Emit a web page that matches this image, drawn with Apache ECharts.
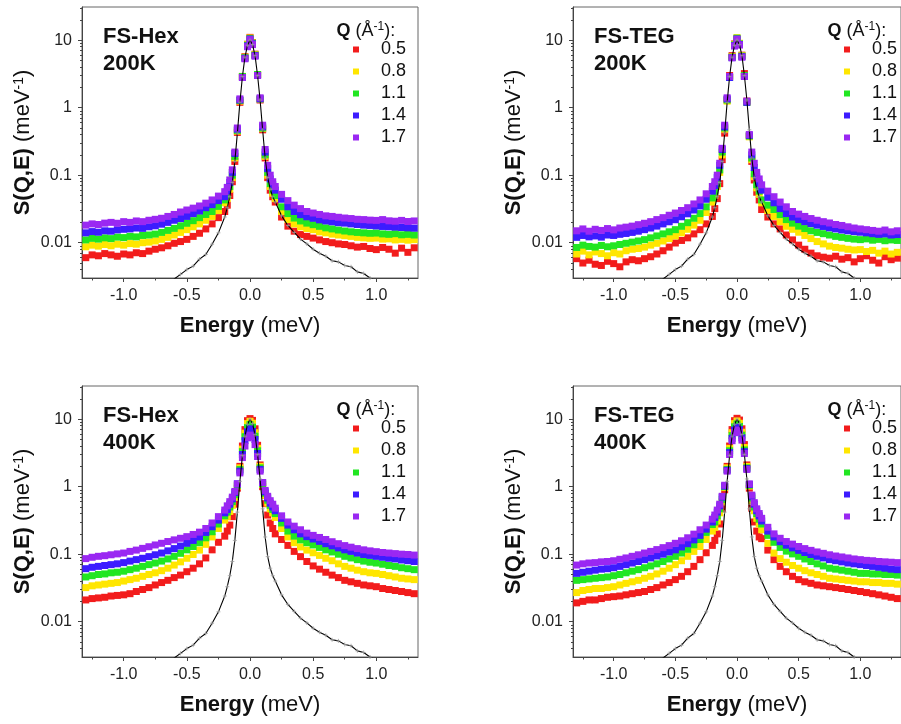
<!DOCTYPE html>
<html>
<head>
<meta charset="utf-8">
<script src="https://cdn.jsdelivr.net/npm/echarts@6/dist/echarts.min.js"></script>
<style>
html,body{margin:0;padding:0;background:#fff;}
#chart{width:901px;height:724px;}
</style>
</head>
<body>
<div id="chart"></div>
<script>
// ---------- DATA ----------
const energy = [
  -1.30,-1.25,-1.20,-1.15,-1.10,-1.05,-1.00,-0.95,-0.90,-0.85,-0.80,-0.75,-0.70,-0.65,-0.60,-0.55,-0.50,-0.45,-0.40,-0.35,-0.30,-0.25,-0.20,
  -0.18,-0.16,-0.14,-0.12,-0.10,-0.08,-0.06,-0.04,-0.02,0.00,0.02,0.04,0.06,0.08,0.10,0.12,0.14,0.16,0.18,
  0.20,0.25,0.30,0.35,0.40,0.45,0.50,0.55,0.60,0.65,0.70,0.75,0.80,0.85,0.90,0.95,1.00,1.05,1.10,1.15,1.20,1.25,1.30
];
// instrument resolution (black line)
const resolution = [
  null,null,null,null,null,null,null,null,null,null,null,null,null,0.0024,0.0029,0.0034,0.0040,0.0045,0.0057,0.0067,0.0095,0.0140,0.0240,
  0.033,0.048,0.078,0.16,0.42,1.2,2.9,5.6,8.4,10.0,8.6,5.9,3.0,1.3,0.47,0.18,0.092,0.062,0.048,
  0.040,0.025,0.018,0.0142,0.0113,0.0096,0.0080,0.0070,0.0063,0.0054,0.0052,0.0046,0.0044,0.0037,0.0035,0.0030,0.0027,0.0024,null,null,null,null,null
];

// FS-Hex 200K
const hex200Q05 = [
  0.0060,0.0066,0.0064,0.0069,0.0066,0.0063,0.0068,0.0066,0.0071,0.0069,0.0075,0.0080,0.0084,0.0090,0.0098,0.0104,0.0112,0.0124,0.0138,0.0160,0.0190,0.0235,0.0290,
  0.036,0.050,0.080,0.16,0.43,1.2,2.9,5.7,8.7,11.0,9.2,6.2,3.1,1.3,0.47,0.18,0.092,0.060,0.048,
  0.040,0.024,0.0176,0.0148,0.0132,0.0124,0.0117,0.0110,0.0104,0.0100,0.0096,0.0094,0.0090,0.0086,0.0088,0.0082,0.0079,0.0085,0.0080,0.0070,0.0083,0.0072,0.0084
];
const hex200Q08 = [
  0.0087,0.0092,0.0089,0.0094,0.0090,0.0095,0.0092,0.0097,0.0095,0.0100,0.0102,0.0106,0.0112,0.0120,0.0130,0.0142,0.0156,0.0172,0.0190,0.0215,0.0245,0.0300,0.0390,
  0.045,0.062,0.092,0.18,0.45,1.25,2.9,5.6,8.6,10.8,9.1,6.1,3.1,1.33,0.49,0.19,0.10,0.068,0.054,
  0.045,0.029,0.022,0.0190,0.0172,0.0162,0.0156,0.0145,0.0140,0.0134,0.0130,0.0127,0.0124,0.0120,0.0118,0.0116,0.0117,0.0113,0.0114,0.0110,0.0112,0.0109,0.0111
];
const hex200Q11 = [
  0.0110,0.0116,0.0113,0.0118,0.0115,0.0121,0.0119,0.0124,0.0122,0.0128,0.0130,0.0134,0.0142,0.0152,0.0163,0.0178,0.0194,0.0212,0.0235,0.0262,0.0290,0.0345,0.0430,
  0.050,0.068,0.10,0.19,0.46,1.28,2.9,5.5,8.4,10.6,9.0,6.0,3.1,1.35,0.50,0.20,0.11,0.075,0.060,
  0.050,0.034,0.027,0.0232,0.0210,0.0195,0.0185,0.0175,0.0166,0.0160,0.0154,0.0149,0.0145,0.0142,0.0140,0.0138,0.0139,0.0135,0.0133,0.0136,0.0131,0.0133,0.0130
];
const hex200Q14 = [
  0.0140,0.0146,0.0143,0.0150,0.0148,0.0155,0.0158,0.0160,0.0165,0.0163,0.0172,0.0178,0.0188,0.0200,0.0215,0.0228,0.0245,0.0270,0.0295,0.0330,0.0366,0.0420,0.0480,
  0.058,0.078,0.11,0.21,0.48,1.3,2.8,5.4,8.2,10.4,8.8,5.9,3.0,1.35,0.52,0.22,0.125,0.088,0.072,
  0.060,0.044,0.034,0.029,0.026,0.0242,0.0230,0.0218,0.0210,0.0204,0.0198,0.0195,0.0190,0.0186,0.0182,0.0180,0.0177,0.0174,0.0172,0.0170,0.0168,0.0166,0.0164
];
const hex200Q17 = [
  0.0182,0.0190,0.0186,0.0195,0.0200,0.0194,0.0205,0.0200,0.0210,0.0205,0.0215,0.0222,0.0230,0.0245,0.0262,0.0285,0.0305,0.0325,0.0350,0.0385,0.0430,0.0490,0.0570,
  0.066,0.085,0.12,0.22,0.50,1.35,2.8,5.3,8.0,10.2,8.6,5.8,3.0,1.4,0.55,0.24,0.14,0.10,0.080,
  0.068,0.052,0.042,0.036,0.032,0.029,0.0275,0.0262,0.0250,0.0245,0.0238,0.0232,0.0228,0.0222,0.0220,0.0216,0.0214,0.0220,0.0211,0.0208,0.0214,0.0206,0.0210
];

// FS-TEG 200K
const teg200Q05 = [
  0.0058,0.0050,0.0055,0.0048,0.0046,0.0053,0.0049,0.0044,0.0052,0.0056,0.0054,0.0058,0.0062,0.0068,0.0076,0.0086,0.0099,0.0108,0.0118,0.0135,0.0156,0.0190,0.0245,
  0.032,0.045,0.075,0.17,0.42,1.3,3.0,5.9,8.8,10.5,8.6,6.0,3.2,1.25,0.38,0.16,0.085,0.056,0.043,
  0.031,0.024,0.019,0.016,0.013,0.011,0.0092,0.0080,0.0070,0.0064,0.0061,0.0059,0.0063,0.0057,0.0060,0.0052,0.0058,0.0064,0.0055,0.0050,0.0062,0.0056,0.0059
];
const teg200Q08 = [
  0.0068,0.0075,0.0066,0.0073,0.0069,0.0064,0.0071,0.0068,0.0076,0.0080,0.0082,0.0086,0.0092,0.0098,0.0106,0.0115,0.0126,0.0140,0.0158,0.0182,0.0215,0.0280,0.0400,
  0.050,0.068,0.11,0.20,0.48,1.25,2.8,5.7,8.7,10.9,9.0,5.9,3.0,1.2,0.37,0.17,0.095,0.065,0.052,
  0.039,0.030,0.0245,0.0205,0.0175,0.0158,0.0143,0.0128,0.0115,0.0104,0.0096,0.0089,0.0085,0.0083,0.0080,0.0078,0.0079,0.0074,0.0077,0.0070,0.0075,0.0068,0.0072
];
const teg200Q11 = [
  0.0085,0.0092,0.0088,0.0086,0.0091,0.0087,0.0090,0.0094,0.0098,0.0102,0.0106,0.0111,0.0118,0.0126,0.0135,0.0145,0.0156,0.0175,0.0198,0.0230,0.0270,0.0340,0.0460,
  0.056,0.075,0.12,0.22,0.50,1.3,2.8,5.6,8.5,10.7,8.8,5.8,3.0,1.2,0.38,0.18,0.105,0.072,0.058,
  0.043,0.036,0.031,0.026,0.022,0.0195,0.0176,0.0162,0.0150,0.0142,0.0136,0.0130,0.0124,0.0120,0.0116,0.0113,0.0111,0.0114,0.0109,0.0112,0.0107,0.0110,0.0108
];
const teg200Q14 = [
  0.0120,0.0128,0.0122,0.0126,0.0121,0.0130,0.0128,0.0133,0.0137,0.0142,0.0148,0.0156,0.0165,0.0176,0.0190,0.0204,0.0219,0.0242,0.0268,0.0305,0.0350,0.0440,0.0580,
  0.070,0.092,0.14,0.24,0.52,1.35,2.8,5.5,8.3,10.4,8.6,5.7,2.9,1.2,0.39,0.20,0.13,0.095,0.076,
  0.060,0.047,0.039,0.032,0.027,0.024,0.0220,0.0205,0.0192,0.0182,0.0174,0.0166,0.0160,0.0154,0.0150,0.0146,0.0143,0.0140,0.0136,0.0133,0.0135,0.0130,0.0132
];
const teg200Q17 = [
  0.0150,0.0160,0.0148,0.0158,0.0152,0.0162,0.0155,0.0165,0.0170,0.0176,0.0185,0.0194,0.0205,0.0220,0.0235,0.0255,0.0275,0.0300,0.0330,0.0375,0.0430,0.0530,0.0680,
  0.080,0.10,0.15,0.25,0.55,1.4,2.9,5.5,8.2,10.3,8.5,5.6,2.9,1.25,0.40,0.22,0.15,0.11,0.088,
  0.072,0.058,0.048,0.040,0.034,0.029,0.0265,0.0245,0.0228,0.0215,0.0205,0.0196,0.0186,0.0180,0.0172,0.0165,0.0160,0.0156,0.0152,0.0148,0.0154,0.0145,0.0150
];

// FS-Hex 400K
const hex400Q05 = [
  0.021,0.022,0.0225,0.023,0.024,0.0245,0.025,0.026,0.028,0.030,0.032,0.035,0.038,0.041,0.045,0.049,0.055,0.062,0.072,0.088,0.116,0.150,0.185,
  0.22,0.27,0.36,0.55,0.95,2.0,4.0,7.0,9.5,10.2,9.6,7.2,4.1,2.1,1.0,0.56,0.38,0.29,0.24,
  0.20,0.165,0.135,0.110,0.092,0.078,0.067,0.060,0.054,0.049,0.045,0.041,0.039,0.037,0.035,0.034,0.033,0.031,0.030,0.029,0.028,0.027,0.026
];
const hex400Q08 = [
  0.032,0.034,0.035,0.036,0.037,0.038,0.040,0.042,0.044,0.047,0.050,0.053,0.057,0.062,0.069,0.077,0.087,0.099,0.115,0.140,0.180,0.240,0.320,
  0.36,0.43,0.53,0.70,1.02,1.9,3.6,6.2,8.6,9.3,8.7,6.3,3.7,2.0,1.08,0.74,0.57,0.47,0.41,
  0.35,0.24,0.18,0.148,0.128,0.115,0.105,0.096,0.087,0.080,0.072,0.066,0.062,0.058,0.055,0.053,0.052,0.050,0.048,0.046,0.044,0.043,0.042
];
const hex400Q11 = [
  0.046,0.048,0.050,0.051,0.053,0.054,0.056,0.059,0.062,0.066,0.070,0.074,0.079,0.085,0.093,0.103,0.116,0.130,0.148,0.175,0.215,0.280,0.370,
  0.42,0.50,0.60,0.76,1.05,1.8,3.3,5.5,7.5,8.3,7.6,5.6,3.4,1.9,1.1,0.80,0.63,0.53,0.46,
  0.40,0.29,0.22,0.185,0.163,0.148,0.137,0.126,0.116,0.108,0.100,0.093,0.088,0.083,0.079,0.076,0.074,0.071,0.068,0.066,0.063,0.061,0.059
];
const hex400Q14 = [
  0.061,0.064,0.066,0.068,0.070,0.072,0.075,0.079,0.083,0.087,0.092,0.098,0.104,0.112,0.121,0.132,0.145,0.160,0.180,0.210,0.255,0.320,0.410,
  0.46,0.55,0.66,0.82,1.10,1.7,3.0,4.8,6.5,7.2,6.6,5.0,3.1,1.8,1.15,0.84,0.68,0.57,0.50,
  0.44,0.34,0.27,0.23,0.200,0.182,0.168,0.155,0.143,0.133,0.124,0.116,0.110,0.104,0.099,0.096,0.093,0.090,0.087,0.085,0.082,0.080,0.078
];
const hex400Q17 = [
  0.086,0.090,0.093,0.095,0.098,0.101,0.104,0.110,0.115,0.122,0.129,0.137,0.145,0.154,0.163,0.172,0.182,0.196,0.212,0.240,0.290,0.360,0.450,
  0.52,0.60,0.70,0.85,1.10,1.6,2.7,4.0,5.3,5.8,5.4,4.2,2.8,1.7,1.15,0.88,0.72,0.62,0.55,
  0.48,0.37,0.30,0.26,0.23,0.205,0.190,0.177,0.165,0.153,0.143,0.134,0.127,0.121,0.116,0.112,0.109,0.106,0.104,0.102,0.100,0.099,0.097
];

// FS-TEG 400K
const teg400Q05 = [
  0.019,0.020,0.021,0.021,0.022,0.023,0.0235,0.024,0.025,0.026,0.027,0.028,0.030,0.032,0.035,0.038,0.042,0.047,0.055,0.066,0.083,0.105,0.135,
  0.16,0.20,0.28,0.47,0.90,2.0,4.0,7.0,9.5,10.3,9.7,7.2,4.2,2.1,0.95,0.48,0.30,0.22,0.18,
  0.17,0.115,0.083,0.066,0.055,0.047,0.042,0.039,0.037,0.035,0.034,0.033,0.032,0.031,0.030,0.029,0.028,0.027,0.026,0.025,0.024,0.023,0.022
];
const teg400Q08 = [
  0.027,0.029,0.030,0.031,0.031,0.032,0.033,0.035,0.037,0.039,0.041,0.044,0.047,0.051,0.056,0.062,0.070,0.080,0.093,0.110,0.130,0.165,0.220,
  0.25,0.31,0.41,0.60,0.97,1.9,3.7,6.3,8.6,9.4,8.7,6.4,3.8,2.0,1.02,0.62,0.44,0.34,0.28,
  0.23,0.145,0.104,0.086,0.076,0.068,0.062,0.057,0.053,0.050,0.047,0.044,0.043,0.042,0.041,0.040,0.039,0.039,0.038,0.038,0.037,0.037,0.036
];
const teg400Q11 = [
  0.041,0.042,0.043,0.044,0.045,0.046,0.048,0.050,0.053,0.056,0.059,0.063,0.067,0.072,0.078,0.085,0.093,0.104,0.118,0.138,0.165,0.210,0.275,
  0.30,0.37,0.47,0.65,1.0,1.8,3.4,5.7,7.7,8.5,7.8,5.8,3.5,1.9,1.05,0.68,0.50,0.40,0.33,
  0.28,0.19,0.15,0.126,0.111,0.101,0.093,0.085,0.078,0.072,0.067,0.062,0.060,0.058,0.056,0.054,0.052,0.052,0.051,0.051,0.050,0.050,0.049
];
const teg400Q14 = [
  0.052,0.054,0.056,0.058,0.060,0.061,0.063,0.066,0.070,0.074,0.078,0.083,0.088,0.094,0.100,0.108,0.116,0.128,0.143,0.163,0.190,0.235,0.300,
  0.35,0.42,0.52,0.70,1.02,1.75,3.2,5.2,6.9,7.6,7.0,5.3,3.3,1.85,1.08,0.72,0.55,0.44,0.37,
  0.31,0.22,0.18,0.153,0.136,0.124,0.114,0.106,0.099,0.093,0.088,0.083,0.080,0.077,0.074,0.072,0.070,0.068,0.066,0.064,0.062,0.060,0.059
];
const teg400Q17 = [
  0.069,0.072,0.074,0.075,0.077,0.078,0.080,0.084,0.088,0.093,0.098,0.104,0.110,0.117,0.125,0.134,0.145,0.158,0.175,0.198,0.230,0.270,0.330,
  0.38,0.45,0.55,0.72,1.05,1.7,3.0,4.8,6.3,6.9,6.4,4.9,3.1,1.8,1.1,0.75,0.58,0.47,0.40,
  0.34,0.25,0.20,0.172,0.154,0.141,0.130,0.121,0.114,0.108,0.103,0.098,0.094,0.091,0.088,0.085,0.083,0.081,0.080,0.078,0.077,0.076,0.075
];

const qLabels = ['0.5', '0.8', '1.1', '1.4', '1.7'];
const panelNames = ['FS-Hex', 'FS-TEG', 'FS-Hex', 'FS-TEG'];
const panelTemps = ['200K', '200K', '400K', '400K'];
const xTickValues = [-1, -0.5, 0, 0.5, 1];
const xMinorTickValues = [-1.25, -0.75, -0.25, 0.25, 0.75, 1.25];
const yTickValues = [0.01, 0.1, 1, 10];
const yMinorTickValues = [0.004,0.005,0.006,0.007,0.008,0.009,0.02,0.03,0.04,0.05,0.06,0.07,0.08,0.09,
  0.2,0.3,0.4,0.5,0.6,0.7,0.8,0.9,2,3,4,5,6,7,8,9,20,30];
const panelSeries = [
  [hex200Q05, hex200Q08, hex200Q11, hex200Q14, hex200Q17],
  [teg200Q05, teg200Q08, teg200Q11, teg200Q14, teg200Q17],
  [hex400Q05, hex400Q08, hex400Q11, hex400Q14, hex400Q17],
  [teg400Q05, teg400Q08, teg400Q11, teg400Q14, teg400Q17]
];

// ---------- STYLE / LAYOUT ----------
const FONT = "'Liberation Sans', Arial, Helvetica, sans-serif";
const qColors = ['#f21c1c', '#ffe600', '#22e622', '#3c1cff', '#9a28f2'];
const boxes = [
  {left: 82, top: 7}, {left: 573, top: 7},
  {left: 82, top: 386}, {left: 573, top: 386}
];
const W = 336, H = 271;
const XMIN = -1.33, XMAX = 1.33, YMIN = 0.003, YMAX = 31;
const axisColor = '#444';

const grids = [], xAxes = [], yAxes = [], series = [], legends = [], titles = [];

boxes.forEach((b, i) => {
  grids.push({left: b.left, top: b.top, width: W, height: H, show: true,
    borderColor: '#666', borderWidth: 1, backgroundColor: 'transparent'});

  // main x axis
  xAxes.push({
    gridIndex: i, type: 'value', position: 'bottom', min: XMIN, max: XMAX,
    axisLine: {show: true, onZero: false, lineStyle: {color: axisColor, width: 1}},
    axisTick: {show: true, inside: false, length: 4, customValues: xTickValues, lineStyle: {color: axisColor}},
    axisLabel: {customValues: xTickValues, formatter: v => Number(v).toFixed(1),
      fontSize: 16, color: '#222', margin: 10, fontFamily: FONT},
    splitLine: {show: false},
    name: '{b|Energy} (meV)', nameLocation: 'middle', nameGap: 37,
    nameTextStyle: {fontSize: 22, color: '#111', fontFamily: FONT,
      rich: {b: {fontSize: 22, fontWeight: 'bold', color: '#111', fontFamily: FONT}}}
  });
  // minor x ticks
  xAxes.push({
    gridIndex: i, type: 'value', position: 'bottom', min: XMIN, max: XMAX,
    axisLine: {show: false, onZero: false},
    axisTick: {show: true, length: 2.5, customValues: xMinorTickValues, lineStyle: {color: axisColor}},
    axisLabel: {show: false}, splitLine: {show: false}
  });

  // main y axis (log)
  yAxes.push({
    gridIndex: i, type: 'log', logBase: 10, position: 'left', min: YMIN, max: YMAX,
    axisLine: {show: true, onZero: false, lineStyle: {color: axisColor, width: 1}},
    axisTick: {show: true, length: 4, customValues: yTickValues, lineStyle: {color: axisColor}},
    axisLabel: {customValues: yTickValues, formatter: v => String(Number(Number(v).toPrecision(3))),
      fontSize: 16, color: '#222', margin: 10, fontFamily: FONT},
    splitLine: {show: false},
    name: '{b|S(Q,E)} (meV{s|-1})', nameLocation: 'middle', nameGap: 48,
    nameTextStyle: {fontSize: 22, color: '#111', fontFamily: FONT,
      rich: {b: {fontSize: 22, fontWeight: 'bold', color: '#111', fontFamily: FONT},
             s: {fontSize: 14, verticalAlign: 'top', lineHeight: 14, color: '#111', fontFamily: FONT}}}
  });
  // minor y ticks
  yAxes.push({
    gridIndex: i, type: 'log', logBase: 10, position: 'left', min: YMIN, max: YMAX,
    axisLine: {show: false, onZero: false},
    axisTick: {show: true, length: 2, customValues: yMinorTickValues, lineStyle: {color: axisColor}},
    axisLabel: {show: false}, splitLine: {show: false}
  });

  panelSeries[i].forEach((vals, k) => {
    series.push({
      type: 'scatter', name: qLabels[k], xAxisIndex: 2 * i, yAxisIndex: 2 * i,
      data: energy.map((e, j) => [e, vals[j]]),
      symbol: 'rect', symbolSize: 7, itemStyle: {color: qColors[k], opacity: 1},
      z: 2 + k, clip: true, animation: false
    });
  });
  series.push({
    type: 'line', name: 'resolution', xAxisIndex: 2 * i, yAxisIndex: 2 * i,
    data: energy.map((e, j) => [e, resolution[j]]).filter(d => d[1] !== null),
    showSymbol: true, symbol: 'path://M0,5L10,5M5,0L5,10', symbolSize: 4,
    itemStyle: {color: 'none', borderColor: '#9a9a9a', borderWidth: 0.8},
    lineStyle: {color: '#000', width: 1.1}, z: 10, clip: true, animation: false
  });

  legends.push({
    left: b.left + 271, top: b.top + 33.5, orient: 'vertical', padding: 0,
    itemWidth: 6, itemHeight: 6, itemGap: 4, icon: 'rect', selectedMode: false,
    data: qLabels,
    itemStyle: {opacity: 1},
    textStyle: {fontSize: 18, lineHeight: 18, color: '#111', fontFamily: FONT, padding: [0, 0, 0, 17]}
  });

  titles.push({
    text: panelNames[i] + '\n' + panelTemps[i], left: b.left + 21, top: b.top + 16.6, padding: 0,
    textStyle: {fontSize: 22, fontWeight: 'bold', lineHeight: 27, color: '#111', fontFamily: FONT}
  });
  titles.push({
    text: '{b|Q} (Å{s|-1}):', left: b.left + 254.5, top: b.top + 14, padding: 0,
    textStyle: {fontSize: 18, fontWeight: 'normal', lineHeight: 20, color: '#111', fontFamily: FONT,
      rich: {b: {fontSize: 18, fontWeight: 'bold', lineHeight: 20, color: '#111', fontFamily: FONT},
             s: {fontSize: 12, fontWeight: 'normal', lineHeight: 12, verticalAlign: 'top', color: '#111', fontFamily: FONT}}}
  });
});

const chart = echarts.init(document.getElementById('chart'), null, {renderer: 'canvas'});
chart.setOption({
  animation: false,
  backgroundColor: '#fff',
  textStyle: {fontFamily: FONT},
  title: titles,
  legend: legends,
  grid: grids,
  xAxis: xAxes,
  yAxis: yAxes,
  series: series
});
</script>
</body>
</html>
